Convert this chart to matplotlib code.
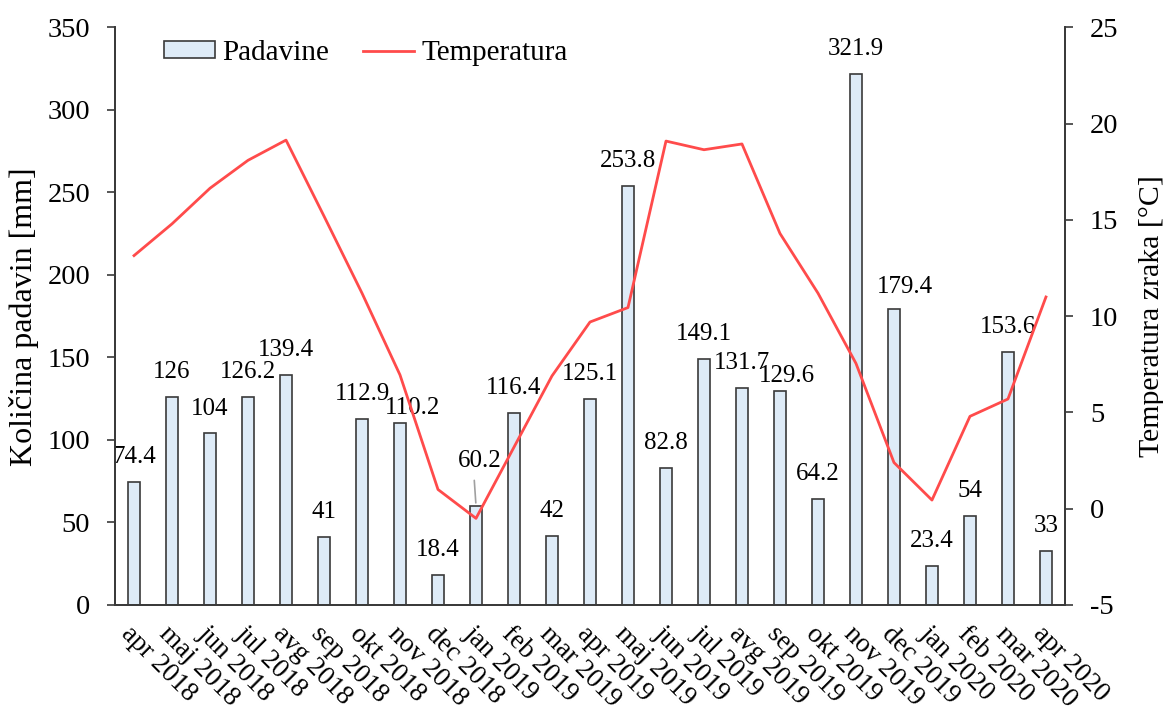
import matplotlib.pyplot as plt
import numpy as np
from matplotlib.patches import Patch
from matplotlib.lines import Line2D

plt.rcParams['font.family'] = ['Liberation Serif', 'DejaVu Serif']
plt.rcParams['axes.unicode_minus'] = False

# podatki
meseci = ['apr 2018', 'maj 2018', 'jun 2018', 'jul 2018', 'avg 2018', 'sep 2018',
          'okt 2018', 'nov 2018', 'dec 2018', 'jan 2019', 'feb 2019', 'mar 2019',
          'apr 2019', 'maj 2019', 'jun 2019', 'jul 2019', 'avg 2019', 'sep 2019',
          'okt 2019', 'nov 2019', 'dec 2019', 'jan 2020', 'feb 2020', 'mar 2020',
          'apr 2020']
padavine = [74.4, 126, 104, 126.2, 139.4, 41, 112.9, 110.2, 18.4, 60.2, 116.4, 42,
            125.1, 253.8, 82.8, 149.1, 131.7, 129.6, 64.2, 321.9, 179.4, 23.4, 54,
            153.6, 33]
temperatura = [13.15, 14.8, 16.65, 18.1, 19.15, 15.2, 11.2, 6.95, 1.0, -0.5, 3.2, 6.9,
               9.7, 10.45, 19.1, 18.65, 18.95, 14.3, 11.2, 7.55, 2.4, 0.45, 4.8, 5.7,
               11.0]

# premiki oznak (x, y v tockah)
premiki = {7: (9, -7), 9: (3, 14), 17: (5, -7), 20: (8, -2)}

fig = plt.figure(figsize=(11.63, 7.18), dpi=100)
ax = fig.add_axes([0.0989, 0.1574, 0.8168, 0.8043])
ax2 = ax.twinx()

x = np.arange(len(meseci))
ax.bar(x, padavine, width=0.32, color='#DEEBF7', edgecolor='#3A3A3A',
       linewidth=1.2, zorder=2)
ax2.plot(x, temperatura, color='#FF4B4B', linewidth=2.0, zorder=3)

# oznake vrednosti
for i, v in enumerate(padavine):
    dx, dy = premiki.get(i, (0, 0))
    ax.annotate(f'{v:g}', (i, v), xytext=(dx, 10 + dy), textcoords='offset points',
                ha='center', va='bottom', fontsize=18, zorder=5)
    if i == 9:
        ax.annotate('', (i, v), xytext=(i - 0.05, v + 17),
                    arrowprops=dict(arrowstyle='-', color='#A0A0A0', lw=1.2))

ax.set_xlim(-0.5, len(meseci) - 0.5)
ax.set_ylim(0, 350)
ax.set_yticks(np.arange(0, 351, 50))
ax2.set_ylim(-5, 25)
ax2.set_yticks(np.arange(-5, 26, 5))

ax.set_xticks(x)
ax.set_xticklabels(meseci, rotation=-45, ha='left', va='top',
                   rotation_mode='anchor', fontsize=19.5)
ax.tick_params(axis='x', length=0, pad=12)
ax.tick_params(axis='y', labelsize=20.5, length=6, width=1.2, color='#3A3A3A', pad=12)
ax2.tick_params(axis='y', labelsize=20.5, length=6, width=1.2, color='#3A3A3A', pad=12)

for a in (ax, ax2):
    a.spines['top'].set_visible(False)
    for s in ('left', 'right', 'bottom'):
        a.spines[s].set_color('#3A3A3A')
        a.spines[s].set_linewidth(1.3)

ax.set_ylabel('Količina padavin [mm]', fontsize=23, labelpad=6)
ax2.set_ylabel('Temperatura zraka [°C]', fontsize=21.5, labelpad=15)

handles = [Patch(facecolor='#DEEBF7', edgecolor='#3A3A3A', linewidth=1.2),
           Line2D([], [], color='#FF4B4B', linewidth=2.0)]
ax.legend(handles, ['Padavine', 'Temperatura'], loc='upper left',
          bbox_to_anchor=(0.141, 0.944), bbox_transform=fig.transFigure,
          ncol=2, frameon=False, fontsize=21, borderpad=0, borderaxespad=0,
          handlelength=1.75, handleheight=0.52, columnspacing=1.15,
          handletextpad=0.25)

fig.savefig('out.png', dpi=100)
